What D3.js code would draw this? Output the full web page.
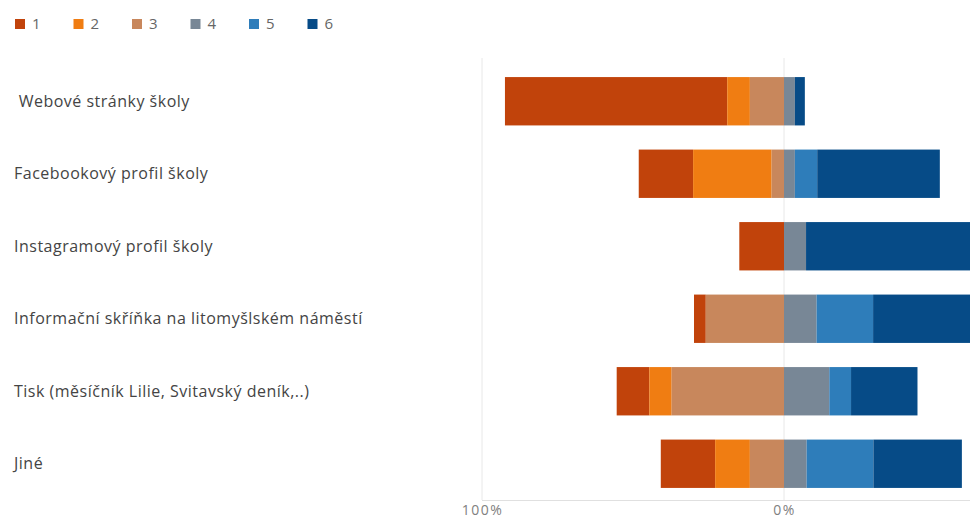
<!DOCTYPE html>
<html><head><meta charset="utf-8">
<script src="https://cdn.jsdelivr.net/npm/d3@7"></script>
<style>
html,body{margin:0;padding:0;background:#fff;overflow:hidden;}
svg{display:block;font-family:"Open Sans","Noto Sans",sans-serif;}
</style></head>
<body>
<svg id="chart" width="970" height="522"></svg>
<script>
const categories = ["\u00A0Webové stránky školy","Facebookový profil školy","Instagramový profil školy","Informační skříňka na litomyšlském náměstí","Tisk (měsíčník Lilie, Svitavský deník,..)","Jiné"];
const seriesNames = ["1","2","3","4","5","6"];
const s1 = [73.6, 18.0, 14.8, 3.9, 10.8, 18.0];
const s2 = [7.5, 26.0, 0, 0, 7.4, 11.5];
const s3 = [11.3, 4.1, 0, 25.9, 37.2, 11.3];
const s4 = [3.6, 3.6, 7.3, 10.8, 15.0, 7.5];
const s5 = [0, 7.4, 0, 18.7, 7.2, 22.1];
const s6 = [3.3, 40.6, 77.9, 40.7, 22.0, 29.3];
const tickValues = [-100, 0];
const colors = ["#C1430B","#F07D12","#C8875C","#788796","#2E7DBA","#064B87"];

const series = [s1,s2,s3,s4,s5,s6];
const svg = d3.select("#chart");
const x = d3.scaleLinear().domain([-100, 100]).range([482, 1086]);
const y = d3.scaleBand().domain(categories).range([65, 500]).paddingInner(0.333).paddingOuter(0.1665);

// gridlines
svg.append("g").selectAll("line").data(tickValues).join("line")
  .attr("x1", d => x(d)).attr("x2", d => x(d))
  .attr("y1", 58).attr("y2", 500)
  .attr("stroke", "#e8e8e8").attr("stroke-width", 1);

// bars
const rows = categories.map((c, i) => {
  const segs = [];
  let left = -(s1[i] + s2[i] + s3[i]);
  for (let k = 0; k < 3; k++) { segs.push({k, x0: left, x1: left + series[k][i]}); left += series[k][i]; }
  let right = 0;
  for (let k = 3; k < 6; k++) { segs.push({k, x0: right, x1: right + series[k][i]}); right += series[k][i]; }
  return {c, segs: segs.filter(s => s.x1 > s.x0)};
});
const gRows = svg.append("g").selectAll("g").data(rows).join("g");
gRows.selectAll("rect").data(d => d.segs.map(s => ({...s, c: d.c}))).join("rect")
  .attr("x", d => x(d.x0)).attr("width", d => x(d.x1) - x(d.x0))
  .attr("y", d => y(d.c)).attr("height", y.bandwidth())
  .attr("fill", d => colors[d.k]);

// x axis
const xAxis = d3.axisBottom(x).tickValues(tickValues).tickSize(0).tickPadding(5)
  .tickFormat(d => Math.abs(d) + "%");
const ax = svg.append("g").attr("transform", "translate(0,500)").call(xAxis);
ax.select(".domain").attr("stroke", "#e0e0e0").attr("d", "M482,0.5H970");
ax.selectAll("text").attr("font-size", 14).attr("letter-spacing", 1.5)
  .attr("fill", "#808080").attr("font-family", "Open Sans");

// category labels
svg.append("g").selectAll("text").data(categories).join("text")
  .attr("x", 14).attr("y", d => y(d) + y.bandwidth() / 2)
  .attr("dy", "0.35em").attr("font-size", 16).attr("letter-spacing", 0.5)
  .attr("fill", "#444").text(d => d);

// legend
const lg = svg.append("g").selectAll("g").data(seriesNames).join("g")
  .attr("transform", (d, i) => `translate(${15 + i * 58.5},19)`);
lg.append("rect").attr("width", 10).attr("height", 10).attr("fill", (d, i) => colors[i]);
lg.append("text").attr("x", 17).attr("y", 5).attr("dy", "0.35em")
  .attr("font-size", 15).attr("fill", "#666").text(d => d);
</script>
</body></html>
